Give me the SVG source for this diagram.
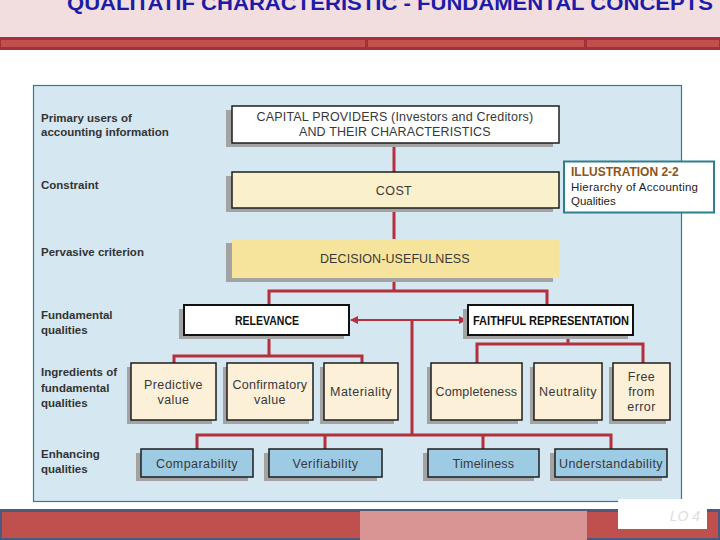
<svg xmlns="http://www.w3.org/2000/svg" width="720" height="540" viewBox="0 0 720 540">
<defs>
<style>
.lbl{font-family:"Liberation Sans",Arial,sans-serif;font-weight:bold;font-size:11.5px;fill:#333}
.bt{font-family:"Liberation Sans",Arial,sans-serif;font-size:12.5px;fill:#383838;text-anchor:middle;letter-spacing:0.4px}
.bb{font-family:"Liberation Sans",Arial,sans-serif;font-size:13px;font-weight:bold;fill:#111;text-anchor:middle}
.sh{fill:#a3a3a3}
.bx{stroke:#1e1e1e;stroke-width:1.5}
.white{fill:#fff}
.cream{fill:#fdf0d9}
.blue{fill:#9ecbe4}
.con{fill:none;stroke:#b3303c;stroke-width:3}
.ill{font-family:"Liberation Sans",Arial,sans-serif;font-size:11.5px;fill:#222}
</style>
<marker id="ah" viewBox="0 0 8 8" refX="7" refY="4" markerWidth="8" markerHeight="8" markerUnits="userSpaceOnUse" orient="auto-start-reverse">
<path d="M0,0 L8,4 L0,8 z" fill="#b3303c"/>
</marker>
</defs>

<!-- header -->
<rect x="0" y="0" width="720" height="37" fill="#f2dede"/>
<text x="390" y="10" text-anchor="middle" font-family="Liberation Sans,Arial,sans-serif" font-weight="bold" font-size="20" fill="#1c1ca8" textLength="646" lengthAdjust="spacingAndGlyphs">QUALITATIF CHARACTERISTIC - FUNDAMENTAL CONCEPTS</text>
<rect x="0" y="37" width="720" height="13" fill="#a5303c"/>
<rect x="1" y="40" width="364" height="7" fill="#c0504d"/>
<rect x="368" y="40" width="216" height="7" fill="#c3524f"/>
<rect x="587" y="40" width="132" height="7" fill="#c0504d"/>

<!-- panel -->
<rect x="33.5" y="85.5" width="648" height="416" fill="#d5e7f1" stroke="#2e7e8e" stroke-width="1.2"/>

<!-- row labels -->
<g id="row-labels">
<text class="lbl" x="41" y="122">Primary users of</text>
<text class="lbl" x="41" y="136">accounting information</text>
<text class="lbl" x="41" y="189">Constraint</text>
<text class="lbl" x="41" y="256">Pervasive criterion</text>
<text class="lbl" x="41" y="319">Fundamental</text>
<text class="lbl" x="41" y="334">qualities</text>
<text class="lbl" x="41" y="376">Ingredients of</text>
<text class="lbl" x="41" y="392">fundamental</text>
<text class="lbl" x="41" y="407">qualities</text>
<text class="lbl" x="41" y="458">Enhancing</text>
<text class="lbl" x="41" y="473">qualities</text>
</g>

<!-- connectors -->
<g id="connectors">
<path class="con" d="M394 143 V172"/>
<path class="con" d="M394 208 V239"/>
<path class="con" d="M394 278 V291 M269 305 V291 H547 V305"/>
<path class="con" d="M269 335 V356 M174 363 V356 H362 V363"/>
<path class="con" d="M568 335 V344 M477 363 V344 H643 V363"/>
<path class="con" d="M412 320 V435 M197 449 V435 H611 V449 M325 435 V449 M483 435 V449"/>
<path d="M351 320 H466" fill="none" stroke="#b3303c" stroke-width="2" marker-start="url(#ah)" marker-end="url(#ah)"/>
</g>

<!-- nodes -->
<g id="capital">
<rect class="sh" x="226" y="110" width="327" height="37"/>
<rect class="bx white" x="232" y="106" width="327" height="37"/>
<text class="bt" x="395" y="121" textLength="277">CAPITAL PROVIDERS (Investors and Creditors)</text>
<text class="bt" x="395" y="136" textLength="192">AND THEIR CHARACTERISTICS</text>
</g>
<g id="cost">
<rect class="sh" x="226" y="176" width="327" height="36"/>
<rect class="bx" x="232" y="172" width="327" height="36" fill="#fbf0cc"/>
<text class="bt" x="394" y="195">COST</text>
</g>
<g id="decision-usefulness">
<rect class="sh" x="226" y="243" width="327" height="39"/>
<rect x="232" y="239" width="327" height="39" fill="#f7e49c"/>
<text class="bt" x="395" y="263" textLength="150">DECISION-USEFULNESS</text>
</g>
<g id="relevance">
<rect class="sh" x="179" y="309" width="165" height="30"/>
<rect class="white" x="184" y="305" width="165" height="30" stroke="#111" stroke-width="2"/>
<text class="bb" x="267" y="325" textLength="64" lengthAdjust="spacingAndGlyphs">RELEVANCE</text>
</g>
<g id="faithful">
<rect class="sh" x="463" y="309" width="165" height="30"/>
<rect class="white" x="468" y="305" width="165" height="30" stroke="#111" stroke-width="2"/>
<text class="bb" x="551" y="325" textLength="156" lengthAdjust="spacingAndGlyphs">FAITHFUL REPRESENTATION</text>
</g>

<g id="predictive">
<rect class="sh" x="127" y="367" width="85" height="57"/>
<rect class="bx cream" x="131" y="363" width="85" height="57"/>
<text class="bt" x="173.5" y="389">Predictive</text>
<text class="bt" x="173.5" y="404">value</text>
</g>
<g id="confirmatory">
<rect class="sh" x="223" y="367" width="86" height="57"/>
<rect class="bx cream" x="227" y="363" width="86" height="57"/>
<text class="bt" x="270" y="389" textLength="75">Confirmatory</text>
<text class="bt" x="270" y="404">value</text>
</g>
<g id="materiality">
<rect class="sh" x="320" y="367" width="74" height="57"/>
<rect class="bx cream" x="324" y="363" width="74" height="57"/>
<text class="bt" x="361" y="396" textLength="62">Materiality</text>
</g>
<g id="completeness">
<rect class="sh" x="427" y="367" width="91" height="57"/>
<rect class="bx cream" x="431" y="363" width="91" height="57"/>
<text class="bt" x="476.5" y="396" textLength="82">Completeness</text>
</g>
<g id="neutrality">
<rect class="sh" x="530" y="367" width="68" height="57"/>
<rect class="bx cream" x="534" y="363" width="68" height="57"/>
<text class="bt" x="568" y="396" textLength="58">Neutrality</text>
</g>
<g id="free-from-error">
<rect class="sh" x="609" y="367" width="57" height="57"/>
<rect class="bx cream" x="613" y="363" width="57" height="57"/>
<text class="bt" x="641.5" y="381">Free</text>
<text class="bt" x="641.5" y="396">from</text>
<text class="bt" x="641.5" y="411">error</text>
</g>

<g id="comparability">
<rect class="sh" x="136" y="453" width="112" height="28"/>
<rect class="bx blue" x="141" y="449" width="112" height="28"/>
<text class="bt" x="197" y="468" textLength="82">Comparability</text>
</g>
<g id="verifiability">
<rect class="sh" x="264" y="453" width="113" height="28"/>
<rect class="bx blue" x="269" y="449" width="113" height="28"/>
<text class="bt" x="325.5" y="468" textLength="66">Verifiability</text>
</g>
<g id="timeliness">
<rect class="sh" x="423" y="453" width="111" height="28"/>
<rect class="bx blue" x="428" y="449" width="111" height="28"/>
<text class="bt" x="483.5" y="468" textLength="62">Timeliness</text>
</g>
<g id="understandability">
<rect class="sh" x="550" y="453" width="112" height="28"/>
<rect class="bx blue" x="555" y="449" width="112" height="28"/>
<text class="bt" x="611" y="468" textLength="104">Understandability</text>
</g>

<g id="illustration">
<rect x="564" y="161.5" width="150" height="51" fill="#fff" stroke="#2e7e8e" stroke-width="2"/>
<text x="571" y="176" font-family="Liberation Sans,Arial,sans-serif" font-weight="bold" font-size="12" fill="#8a5520">ILLUSTRATION 2-2</text>
<text class="ill" x="571" y="191" textLength="127">Hierarchy of Accounting</text>
<text class="ill" x="571" y="205">Qualities</text>
</g>

<!-- footer -->
<rect x="0" y="509" width="720" height="31" fill="#4a5a80"/>
<rect x="2" y="512" width="716" height="26" fill="#c0504d"/>
<rect x="360" y="511" width="227" height="29" fill="#d99594"/>
<rect x="618" y="499" width="89" height="30" fill="#fff"/>
<text x="700" y="521" text-anchor="end" font-family="Liberation Sans,Arial,sans-serif" font-style="italic" font-size="14" fill="#dedede">LO 4</text>
</svg>
